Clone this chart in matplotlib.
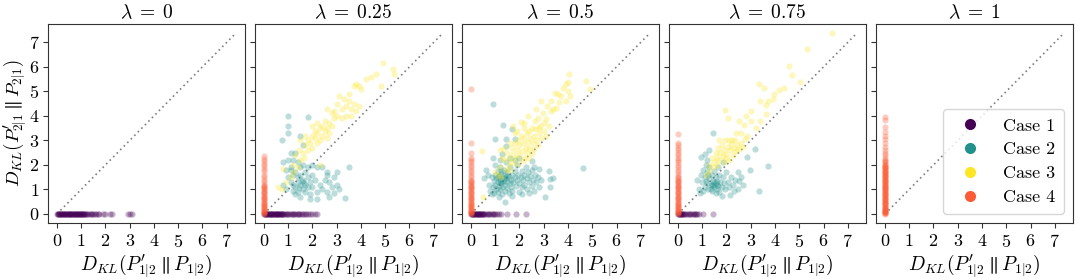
import numpy as np
import matplotlib
matplotlib.use("Agg")
import matplotlib.pyplot as plt
from matplotlib.lines import Line2D

plt.rcParams['font.family'] = 'serif'
plt.rcParams['font.serif'] = ['cmr10', 'DejaVu Serif']
plt.rcParams['mathtext.fontset'] = 'cm'
plt.rcParams['axes.formatter.use_mathtext'] = True

lambdas = ["0", "0.25", "0.5", "0.75", "1"]
case_labels = ["Case 1", "Case 2", "Case 3", "Case 4"]
case_colors = ["#440154", "#21918c", "#fde725", "#fc5b35"]

# ---- Case 1 : points on the x-axis (y = 0) ----
c1_x_l0 = [0.02,0.04,0.06,0.08,0.1,0.12,0.15,0.18,0.2,0.22,0.25,0.28,0.3,0.33,0.35,0.38,0.4,0.43,0.45,
           0.48,0.5,0.53,0.55,0.58,0.6,0.63,0.65,0.68,0.7,0.73,0.75,0.78,0.8,0.83,0.85,0.88,0.9,0.93,0.95,
           0.98,1.0,1.03,1.05,1.08,1.1,1.13,1.15,1.2,1.25,1.3,1.35,1.4,1.45,1.5,1.55,1.6,1.68,1.75,1.92,
           2.0,2.2,2.28,2.92,3.02,3.08]
c1_x_l25 = [0.01,0.03,0.05,0.08,0.1,0.13,0.15,0.18,0.2,0.23,0.25,0.28,0.3,0.33,0.35,0.38,0.4,0.43,0.45,
            0.48,0.5,0.53,0.55,0.58,0.6,0.63,0.65,0.68,0.7,0.73,0.75,0.78,0.8,0.85,0.9,0.95,1.0,1.05,1.1,
            1.15,1.2,1.25,1.3,1.35,1.4,1.45,1.5,1.55,1.6,1.7,1.75,1.8,1.9,2.0,2.1,2.2]
c1_x_l50 = [0.01,0.03,0.05,0.08,0.1,0.13,0.15,0.18,0.2,0.23,0.25,0.28,0.3,0.33,0.35,0.38,0.4,0.43,0.45,
            0.48,0.5,0.55,0.6,0.65,0.7,0.75,0.8,0.85,0.9,0.95,1.0,1.08,1.15,1.22,1.5,1.85,2.25]
c1_x_l75 = [0.01,0.03,0.05,0.08,0.1,0.13,0.15,0.18,0.2,0.25,0.3,0.35,0.4,0.45,0.5,0.55,0.6,0.65,0.7,
            0.75,0.8,0.88,1.05,1.45]
c1_x_l100 = []

# ---- Case 4 : points on the y-axis (x = 0) ----
c4_y_l0 = []
c4_y_l25 = [0.01,0.04,0.07,0.1,0.13,0.16,0.2,0.24,0.28,0.32,0.36,0.4,0.45,0.5,0.55,0.6,0.65,0.7,0.75,
            0.8,0.85,0.9,0.95,1.0,1.05,1.1,1.15,1.2,1.3,1.4,1.5,1.6,1.75,1.85,1.95,2.05,2.15,2.25,2.35]
c4_y_l50 = [0.01,0.04,0.07,0.1,0.13,0.16,0.2,0.24,0.28,0.32,0.36,0.4,0.45,0.5,0.55,0.6,0.65,0.7,0.75,
            0.8,0.85,0.9,0.95,1.0,1.05,1.1,1.15,1.2,1.25,1.3,1.35,1.4,1.5,1.6,1.7,1.8,1.9,2.0,2.1,2.2,
            2.3,2.5,2.9,5.08]
c4_y_l75 = [0.01,0.04,0.07,0.1,0.13,0.16,0.2,0.24,0.28,0.32,0.36,0.4,0.45,0.5,0.55,0.6,0.65,0.7,0.75,
            0.8,0.85,0.9,0.95,1.0,1.05,1.1,1.15,1.2,1.25,1.3,1.35,1.4,1.45,1.5,1.6,1.7,1.8,1.9,2.0,2.1,
            2.2,2.3,2.4,2.5,2.6,2.7,2.8,2.9,3.25]
c4_y_l100 = [0.0,0.02,0.04,0.06,0.08,0.1,0.12,0.15,0.18,0.2,0.23,0.26,0.3,0.33,0.36,0.4,0.43,0.46,0.5,
             0.53,0.56,0.6,0.63,0.66,0.7,0.73,0.76,0.8,0.83,0.86,0.9,0.93,0.96,1.0,1.03,1.06,1.1,1.13,
             1.16,1.2,1.23,1.26,1.3,1.33,1.36,1.4,1.43,1.46,1.5,1.53,1.56,1.6,1.63,1.66,1.7,1.73,1.76,
             1.8,1.83,1.86,1.9,1.93,1.96,2.0,2.05,2.1,2.15,2.2,2.3,2.4,2.5,2.6,2.75,2.9,3.05,3.2,3.35,
             3.55,3.85,3.95]

# ---- Case 2 (teal clouds) ----
c2_x_l25 = [1.0,1.8,1.0,1.0,0.75,1.5,1.3,1.6,0.8,1.0,0.9,1.1,1.2,1.3,1.4,1.5,1.0,1.1,1.2,1.3,1.4,1.5,
            1.6,1.7,1.8,1.9,2.0,2.1,1.6,1.7,1.8,1.9,2.0,1.3,1.4,1.2,1.5,2.2,2.3,2.4,2.5,2.6,2.7,2.8,2.6,
            2.9,3.0,3.1,3.35,3.5,2.2,2.4,2.6,2.9,3.0,2.2,1.9,2.7,1.1,1.7,1.8,2.0,1.5,1.4,0.8,0.9,1.1,
            1.6,1.2,1.55,1.65,1.45]
c2_y_l25 = [4.0,3.95,3.6,3.3,3.0,3.2,2.5,2.8,2.1,2.2,1.8,1.8,1.6,1.7,1.5,1.6,1.5,1.3,1.2,1.1,1.3,1.2,
            1.4,1.2,1.5,1.3,1.6,1.4,1.0,0.9,1.1,0.8,1.1,0.8,0.9,0.95,0.7,0.9,1.2,1.0,1.4,1.6,1.3,1.1,0.9,
            0.85,1.2,1.0,0.64,1.9,1.9,1.9,1.7,1.5,1.7,0.6,0.6,0.7,2.5,1.7,1.9,2.0,1.9,2.1,1.2,1.0,1.9,
            2.0,2.2,1.35,1.25,1.05]
c2_x_l50 = [0.89,4.61,1.33,1.7,0.99,1.44,1.81,1.44,2.53,2.6,2.81,3.2,3.38,3.24,3.24,3.04,1.4,0.62,0.55,
            0.75,0.8,0.85,0.9,0.95,0.95,1.0,1.0,1.05,1.05,1.1,1.1,1.1,1.15,1.15,1.2,1.2,1.2,1.25,1.25,1.3,
            1.3,1.3,1.35,1.35,1.4,1.4,1.4,1.45,1.45,1.5,1.5,1.5,1.55,1.55,1.6,1.6,1.65,1.65,1.7,1.7,1.75,
            1.8,1.8,1.85,1.9,1.9,1.95,2.0,2.0,2.05,2.1,2.1,2.15,2.2,2.2,2.25,2.3,2.3,2.35,2.4,2.45,2.5,
            2.5,2.55,2.6,2.65,2.7,2.75,2.8,2.9,1.0,1.2,0.9,1.6,1.8,2.0,1.3,0.7,1.15,1.7,2.1,2.4,0.85,1.25,
            1.4,1.5,1.2,1.3,1.1]
c2_y_l50 = [4.5,1.87,3.62,3.48,3.06,3.06,3.06,2.79,2.15,1.91,1.83,1.77,1.46,1.43,1.12,0.71,0.47,1.8,1.46,
            1.2,0.95,1.5,1.1,1.35,0.85,1.6,1.2,1.0,1.45,1.75,1.3,0.9,1.55,1.15,1.4,1.0,1.9,1.25,1.65,1.1,
            1.5,0.8,1.35,1.8,1.2,1.6,0.95,1.45,2.1,1.3,1.05,1.7,1.5,0.85,1.25,1.9,1.4,1.1,1.6,0.95,1.3,
            1.75,1.5,1.15,1.4,2.0,1.6,1.25,0.9,1.5,1.75,1.1,1.4,1.6,1.2,1.9,1.45,1.0,1.7,1.3,1.55,1.8,
            1.15,1.4,0.95,1.6,1.3,1.5,1.1,1.4,2.0,2.2,2.3,2.3,2.2,2.3,2.45,1.6,0.7,0.75,0.8,0.85,0.8,1.75,
            1.45,1.55,1.3,1.35,1.5]
c2_x_l75 = [1.44,3.18,2.84,3.7,3.32,2.95,2.49,0.78,1.1,0.96,1.05,2.15,2.49,1.3,1.2,
            0.95,1.0,1.05,1.1,1.1,1.15,1.2,1.2,1.25,1.3,1.3,1.35,1.4,1.4,1.45,1.5,1.5,1.55,1.55,1.6,1.6,
            1.65,1.7,1.7,1.75,1.8,1.85,1.9,1.95,2.0,2.05,2.1,2.2,2.25,2.3,2.35,1.45,1.5,1.4,1.35,1.6,1.25,
            0.85,0.9,1.55,1.8,2.6,2.7,1.65,1.85,2.5,1.15]
c2_y_l75 = [3.3,2.63,2.33,1.94,0.92,1.8,1.7,1.39,2.45,2.32,0.92,0.78,1.03,2.6,2.2,
            1.6,1.3,1.8,1.1,1.5,2.0,1.25,1.7,1.0,1.45,1.9,1.2,1.6,0.95,1.35,1.75,1.1,1.25,1.5,1.0,1.35,
            1.15,1.6,0.9,1.3,1.1,1.5,1.25,1.0,1.7,1.3,1.1,1.5,1.2,0.95,1.4,1.2,1.3,1.2,1.0,1.2,1.6,
            1.0,0.85,0.85,0.75,1.5,1.2,1.9,2.1,1.35,1.35]

# ---- Case 3 (yellow clouds) ----
c3_x_l25 = [0.6,0.75,0.9,1.1,1.2,1.3,1.4,1.5,1.45,1.6,1.7,1.65,1.8,1.8,1.9,2.0,2.0,2.1,2.1,2.2,2.2,2.3,
            2.3,2.4,2.4,2.5,2.5,2.6,2.6,2.7,2.7,2.8,2.9,2.2,2.0,1.7,1.5,3.0,3.2,3.4,3.3,3.5,3.6,3.7,3.8,
            3.5,3.9,3.0,3.1,3.4,2.9,3.7,3.8,4.0,4.2,4.4,4.6,4.9,5.3,5.35,4.83,3.9,3.6,2.8,2.6,3.2,0.8,
            2.3,1.2]
c3_y_l25 = [1.1,1.0,1.3,1.5,2.0,2.4,1.9,2.2,2.6,2.5,2.8,2.3,2.6,3.0,2.9,3.2,2.7,3.1,3.4,2.9,3.3,3.5,
            3.0,3.6,3.2,3.4,3.8,3.5,3.1,3.7,3.3,3.6,3.9,3.7,3.6,3.2,3.0,4.5,4.3,4.4,4.7,4.6,4.3,4.5,4.2,
            4.9,4.4,4.0,4.8,4.0,4.2,5.2,5.3,5.1,5.5,5.6,5.7,6.15,5.93,5.7,5.22,5.2,4.0,4.1,4.3,3.9,1.85,
            2.0,1.7]
c3_x_l50 = [4.04,4.01,4.76,4.89,4.01,3.79,3.72,3.45,3.32,3.63,3.93,2.88,3.15,3.52,2.97,3.11,2.66,2.36,
            2.08,0.47,0.51,1.19,3.3,3.6,4.1,3.9,3.4,2.7,3.0,2.8,2.2,1.8,
            1.4,1.5,1.55,1.6,1.7,1.7,1.75,1.8,1.85,1.9,1.95,2.0,2.0,2.05,2.1,2.15,2.2,2.2,2.25,2.3,2.3,
            2.35,2.4,2.4,2.45,2.5,2.5,2.55,2.6,2.6,2.65,2.7,2.75,2.8,2.85,2.9,3.0,3.1,3.2,1.2,1.3,1.1,
            1.0,1.25,1.45,1.6,1.9,2.15,2.4,1.35,1.6,1.9,2.2,2.75,1.75]
c3_y_l50 = [5.7,5.39,5.42,5.08,5.0,5.15,4.81,4.94,4.6,4.58,4.6,4.6,4.4,4.33,4.12,3.88,3.81,3.99,
            3.74,2.55,0.71,2.62,4.2,4.9,4.8,5.3,4.3,4.3,3.7,3.5,3.5,3.3,
            2.2,2.5,2.0,2.3,2.7,2.1,2.45,2.9,2.3,2.6,3.0,2.4,2.8,3.2,2.55,2.9,2.3,3.1,2.7,3.3,2.5,
            2.95,3.4,2.7,3.1,2.5,3.5,2.9,3.2,2.65,3.45,3.0,2.8,3.3,3.6,3.1,3.4,3.2,3.6,1.9,2.3,1.6,
            1.7,1.5,1.8,1.8,2.05,2.15,2.3,2.7,2.9,3.4,3.7,3.9,3.6]
c3_x_l75 = [6.35,5.3,4.59,4.68,5.02,4.38,4.18,3.97,3.55,3.34,3.72,3.62,3.62,3.93,2.79,2.74,2.52,2.05,
            1.94,3.2,3.38,2.85,2.22,3.0,3.4,2.6,3.0,2.4,1.7,
            1.3,1.4,1.5,1.55,1.6,1.65,1.7,1.75,1.8,1.85,1.9,1.95,2.0,2.05,2.1,2.1,2.15,2.2,2.25,2.3,
            2.35,2.4,2.45,2.5,2.6,2.7,2.75,1.26,1.15,1.45,1.9,2.0,1.6]
c3_y_l75 = [7.38,6.72,6.04,5.67,5.38,5.15,5.04,4.9,5.15,5.31,4.6,4.44,4.08,4.67,3.99,3.62,3.78,3.92,
            4.26,3.5,3.78,3.17,3.03,4.2,4.6,3.3,3.8,3.3,3.0,
            2.0,2.3,2.1,2.5,2.3,2.7,2.2,2.5,2.8,2.35,2.6,3.0,2.45,2.75,2.2,3.0,2.6,2.85,2.4,2.7,
            3.0,2.55,2.8,2.65,2.9,2.75,3.05,1.74,1.6,1.9,2.1,2.3,2.0]

c1_x = [c1_x_l0, c1_x_l25, c1_x_l50, c1_x_l75, c1_x_l100]
c4_y = [c4_y_l0, c4_y_l25, c4_y_l50, c4_y_l75, c4_y_l100]
c2 = [([], []), (c2_x_l25, c2_y_l25), (c2_x_l50, c2_y_l50), (c2_x_l75, c2_y_l75), ([], [])]
c3 = [([], []), (c3_x_l25, c3_y_l25), (c3_x_l50, c3_y_l50), (c3_x_l75, c3_y_l75), ([], [])]

all_vals = [v for lst in c1_x + c4_y for v in lst]
for xs, ys in c2 + c3:
    all_vals += list(xs) + list(ys)
vmax = max(all_vals)

fig, axes = plt.subplots(1, 5, figsize=(10.8, 2.79), dpi=100, sharex=True, sharey=True)
fig.subplots_adjust(left=0.0444, right=0.9935, bottom=0.2007, top=0.914, wspace=0.051)

kw = dict(s=20, alpha=0.3, linewidths=0)
for i, ax in enumerate(axes):
    ax.plot([0, vmax], [0, vmax], linestyle=(0, (1, 2)), color="gray", lw=1.2, zorder=1)
    if c1_x[i]:
        ax.scatter(c1_x[i], np.zeros(len(c1_x[i])), color=case_colors[0], **kw)
    if c2[i][0]:
        ax.scatter(c2[i][0], c2[i][1], color=case_colors[1], **kw)
    if c3[i][0]:
        ax.scatter(c3[i][0], c3[i][1], color=case_colors[2], **kw)
    if c4_y[i]:
        ax.scatter(np.zeros(len(c4_y[i])), c4_y[i], color=case_colors[3], **kw)
    ax.set_title(r"$\lambda\;=\;%s$" % lambdas[i], fontsize=14, pad=4)
    ax.set_xlabel(r"$D_{KL}(P^{\prime}_{1|2} \parallel P_{1|2})$", fontsize=14, labelpad=2)
    ax.set_xticks(range(0, 8))
    ax.set_yticks(range(0, 8))
    ax.tick_params(labelsize=13, length=3.5, color="#333333")
    for sp in ax.spines.values():
        sp.set_color("#333333")

axes[0].set_ylabel(r"$D_{KL}(P^{\prime}_{2|1} \parallel P_{2|1})$", fontsize=13.5, labelpad=0)
axes[0].tick_params(axis='y', pad=2.5)

handles = [Line2D([], [], marker='o', linestyle='', markersize=8, color=c, markeredgewidth=0)
           for c in case_colors]
axes[4].legend(handles, case_labels, loc="lower right", fontsize=13, frameon=True,
               borderpad=0.5, labelspacing=0.45, handletextpad=0.8)

fig.savefig("out.png", dpi=100)
